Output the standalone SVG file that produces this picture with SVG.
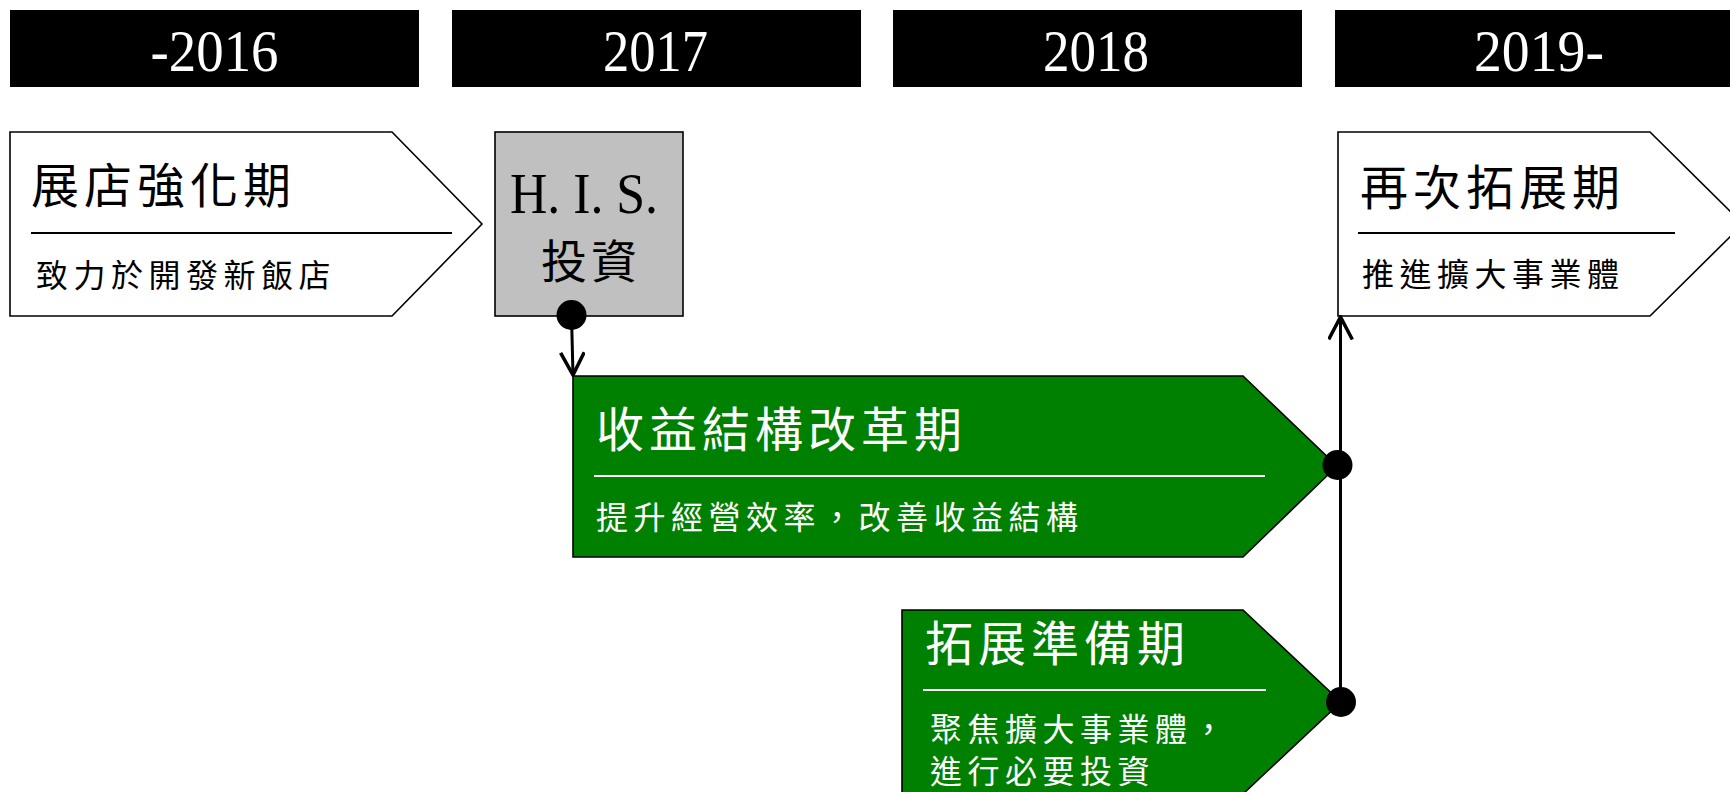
<svg xmlns="http://www.w3.org/2000/svg" width="1730" height="792" viewBox="0 0 1730 792">
<style>
.hdr{fill:#000;}
.yr{font-family:"Liberation Serif",serif;font-size:59px;fill:#fff;text-anchor:middle;}
.box{stroke:#000;stroke-width:1.6;}
.white{fill:#fff;}
.green{fill:#008000;}
.grey{fill:#c0c0c0;}
.t{font-family:"Noto Sans CJK TC","Noto Sans CJK SC",sans-serif;font-size:48px;letter-spacing:5px;}
.s{font-family:"Noto Sans CJK TC","Noto Sans CJK SC",sans-serif;font-size:32px;letter-spacing:5.5px;}
.dk{fill:#000;}
.lt{fill:#fff;}
.rule{stroke-width:2;}
.conn{stroke:#000;stroke-width:3;fill:none;}
.dot{fill:#000;}
</style>
<defs>
<marker id="arr" markerUnits="userSpaceOnUse" markerWidth="26" markerHeight="26" viewBox="0 0 22 22" refX="20" refY="11" orient="auto">
<path d="M1,1 L20,11 L1,21" fill="none" stroke="#000" stroke-width="3"/>
</marker>
</defs>
<g id="years">
<rect class="hdr" x="10" y="10" width="409" height="77"/>
<text class="yr" x="214.5" y="71" textLength="128" lengthAdjust="spacingAndGlyphs">-2016</text>
<rect class="hdr" x="452" y="10" width="409" height="77"/>
<text class="yr" x="655.5" y="71" textLength="105" lengthAdjust="spacingAndGlyphs">2017</text>
<rect class="hdr" x="893" y="10" width="409" height="77"/>
<text class="yr" x="1096" y="71" textLength="106" lengthAdjust="spacingAndGlyphs">2018</text>
<rect class="hdr" x="1335" y="10" width="409" height="77"/>
<text class="yr" x="1539" y="71" textLength="130" lengthAdjust="spacingAndGlyphs">2019-</text>
</g>
<g id="node-expand">
<polygon class="box white" points="10,132 392,132 482,224 392,316 10,316"/>
<text class="t dk" x="31" y="203">展店強化期</text>
<line class="rule" stroke="#000" x1="31" y1="233" x2="452" y2="233"/>
<text class="s dk" x="36" y="287">致力於開發新飯店</text>
</g>
<g id="node-his">
<rect class="box grey" x="495" y="132" width="188" height="184"/>
<text x="584" y="213" font-family="Liberation Serif,serif" font-size="56" text-anchor="middle" textLength="148" lengthAdjust="spacingAndGlyphs">H. I. S.</text>
<text class="t dk" x="541" y="278" style="font-size:46px;letter-spacing:4px">投資</text>
</g>
<g id="node-reform">
<polygon class="box green" points="573,376 1243,376 1337,466 1243,557 573,557"/>
<text class="t lt" x="596" y="447">收益結構改革期</text>
<line class="rule" stroke="#fff" x1="594" y1="476" x2="1265" y2="476"/>
<text class="s lt" x="596" y="529">提升經營效率，改善收益結構</text>
</g>
<g id="node-prep">
<polygon class="box green" points="902,610 1243,610 1341,702 1243,794 902,794"/>
<text class="t lt" x="925" y="661">拓展準備期</text>
<line class="rule" stroke="#fff" x1="923" y1="690" x2="1266" y2="690"/>
<text class="s lt" x="930" y="741">聚焦擴大事業體，</text>
<text class="s lt" x="930" y="783">進行必要投資</text>
</g>
<g id="node-reexpand">
<polygon class="box white" points="1338,132 1650,132 1743,224 1650,316 1338,316"/>
<text class="t dk" x="1360" y="205">再次拓展期</text>
<line class="rule" stroke="#000" x1="1358" y1="233" x2="1675" y2="233"/>
<text class="s dk" x="1362" y="286">推進擴大事業體</text>
</g>
<g id="connectors">
<line class="conn" x1="571.5" y1="316" x2="573" y2="375" marker-end="url(#arr)"/>
<line class="conn" x1="1340.5" y1="702" x2="1340.5" y2="465"/>
<line class="conn" x1="1340.5" y1="465" x2="1340.5" y2="317" marker-end="url(#arr)"/>
<circle class="dot" cx="571.5" cy="315" r="15"/>
<circle class="dot" cx="1337.5" cy="465" r="15"/>
<circle class="dot" cx="1341" cy="702" r="15"/>
</g>
</svg>
